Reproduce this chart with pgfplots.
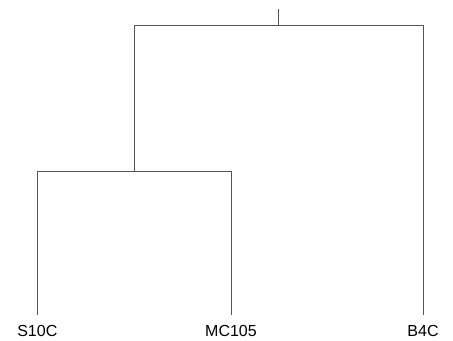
\documentclass[border=0pt]{standalone}
\usepackage{pgfplots}
\pgfplotsset{compat=1.18}
\usepackage{fontspec}
\setmainfont{Liberation Sans}
\definecolor{ln}{HTML}{555555}
\begin{document}
\begin{tikzpicture}
\begin{axis}[
  scale only axis, width=453bp, height=341bp,
  xmin=0, xmax=453, ymin=0, ymax=341,
  hide axis, clip=false,
]
% leaf positions (x) and merge heights (y, measured upward)
\addplot[ln, line width=0.9bp] coordinates {(37.3,26) (37.3,170) (231,170) (231,26)};
\addplot[ln, line width=0.9bp] coordinates {(134,170) (134,316) (423,316) (423,26)};
\addplot[ln, line width=0.9bp] coordinates {(278.5,316) (278.5,332)};
\node[font=\fontsize{16bp}{18bp}\selectfont] at (axis cs:37.3,10) {S10C};
\node[font=\fontsize{16bp}{18bp}\selectfont] at (axis cs:231,10) {MC105};
\node[font=\fontsize{16bp}{18bp}\selectfont] at (axis cs:423,10) {B4C};
\end{axis}
\path[use as bounding box] (0,0) rectangle (453bp,341bp);
\end{tikzpicture}
\end{document}
